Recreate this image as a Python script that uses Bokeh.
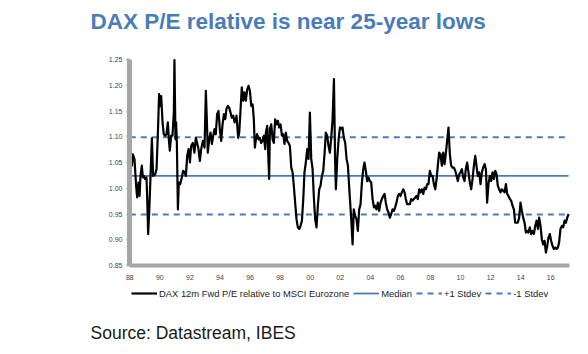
from bokeh.plotting import figure
from bokeh.models import Legend, LegendItem, FixedTicker, Range1d, Label, LinearAxis
from bokeh.embed import file_html
from bokeh.resources import INLINE

# ---------------- data ----------------
years = [
    1988.00, 1988.09, 1988.14, 1988.20, 1988.31, 1988.42, 1988.49, 1988.58, 1988.65, 1988.71,
    1988.80, 1988.87, 1988.93, 1989.02, 1989.11, 1989.16, 1989.22, 1989.29, 1989.38, 1989.47,
    1989.55, 1989.69, 1989.78, 1989.87, 1989.95, 1990.02, 1990.09, 1990.18, 1990.26, 1990.35,
    1990.44, 1990.53, 1990.60, 1990.66, 1990.75, 1990.84, 1990.93, 1990.97, 1991.04, 1991.08,
    1991.13, 1991.20, 1991.26, 1991.35, 1991.46, 1991.55, 1991.64, 1991.73, 1991.82, 1991.91,
    1992.00, 1992.08, 1992.19, 1992.30, 1992.39, 1992.48, 1992.57, 1992.66, 1992.75, 1992.86,
    1992.97, 1993.06, 1993.13, 1993.19, 1993.28, 1993.37, 1993.46, 1993.55, 1993.64, 1993.72,
    1993.81, 1993.90, 1993.99, 1994.08, 1994.17, 1994.26, 1994.35, 1994.43, 1994.52, 1994.61,
    1994.70, 1994.79, 1994.88, 1994.97, 1995.06, 1995.10, 1995.21, 1995.28, 1995.37, 1995.45,
    1995.54, 1995.63, 1995.72, 1995.81, 1995.90, 1995.99, 1996.08, 1996.17, 1996.25, 1996.32,
    1996.39, 1996.47, 1996.56, 1996.65, 1996.74, 1996.83, 1996.92, 1997.01, 1997.05, 1997.14,
    1997.23, 1997.27, 1997.32, 1997.41, 1997.50, 1997.58, 1997.67, 1997.76, 1997.85, 1997.94,
    1998.03, 1998.12, 1998.20, 1998.29, 1998.38, 1998.47, 1998.56, 1998.65, 1998.74, 1998.83,
    1998.91, 1999.00, 1999.09, 1999.18, 1999.27, 1999.36, 1999.45, 1999.54, 1999.62, 1999.71,
    1999.80, 1999.89, 1999.98, 2000.07, 2000.16, 2000.25, 2000.33, 2000.42, 2000.51, 2000.60,
    2000.69, 2000.78, 2000.87, 2000.96, 2001.04, 2001.13, 2001.22, 2001.31, 2001.40, 2001.49,
    2001.58, 2001.66, 2001.71, 2001.80, 2001.89, 2001.98, 2002.06, 2002.15, 2002.24, 2002.33,
    2002.42, 2002.51, 2002.62, 2002.73, 2002.82, 2002.90, 2002.99, 2003.08, 2003.17, 2003.26,
    2003.35, 2003.44, 2003.53, 2003.61, 2003.70, 2003.79, 2003.88, 2003.97, 2004.06, 2004.15,
    2004.24, 2004.32, 2004.41, 2004.50, 2004.59, 2004.68, 2004.77, 2004.86, 2004.95, 2005.03,
    2005.12, 2005.21, 2005.30, 2005.39, 2005.48, 2005.57, 2005.65, 2005.74, 2005.83, 2005.92,
    2006.01, 2006.10, 2006.19, 2006.28, 2006.36, 2006.45, 2006.54, 2006.63, 2006.72, 2006.81,
    2006.90, 2006.99, 2007.07, 2007.16, 2007.25, 2007.34, 2007.43, 2007.52, 2007.61, 2007.70,
    2007.78, 2007.87, 2007.96, 2008.05, 2008.14, 2008.23, 2008.32, 2008.41, 2008.49, 2008.58,
    2008.67, 2008.76, 2008.85, 2008.94, 2009.03, 2009.11, 2009.20, 2009.29, 2009.38, 2009.47,
    2009.56, 2009.65, 2009.74, 2009.82, 2009.91, 2010.00, 2010.09, 2010.18, 2010.27, 2010.35,
    2010.44, 2010.53, 2010.62, 2010.71, 2010.80, 2010.89, 2010.98, 2011.06, 2011.15, 2011.24,
    2011.33, 2011.42, 2011.51, 2011.60, 2011.69, 2011.77, 2011.86, 2011.95, 2012.04, 2012.13,
    2012.22, 2012.31, 2012.40, 2012.48, 2012.57, 2012.66, 2012.75, 2012.84, 2012.93, 2013.02,
    2013.10, 2013.19, 2013.28, 2013.37, 2013.46, 2013.55, 2013.64, 2013.73, 2013.81, 2013.90,
    2013.99, 2014.08, 2014.17, 2014.26, 2014.35, 2014.44, 2014.52, 2014.61, 2014.70, 2014.79,
    2014.88, 2014.97, 2015.06, 2015.15, 2015.23, 2015.32, 2015.41, 2015.50, 2015.59, 2015.68,
    2015.77, 2015.85, 2015.94, 2016.03, 2016.12, 2016.21, 2016.30, 2016.39, 2016.48, 2016.56,
    2016.65, 2016.74, 2016.83, 2016.92, 2017.01, 2017.10, 2017.19,
]

pe_relative = [
    1.098, 1.063, 1.044, 1.066, 1.057, 1.005, 0.982, 1.011, 0.985, 1.024,
    1.044, 1.021, 1.024, 1.018, 1.021, 0.979, 0.911, 0.953, 1.024, 1.097,
    1.024, 1.027, 1.037, 1.108, 1.183, 1.160, 1.179, 1.128, 1.105, 1.102,
    1.105, 1.128, 1.095, 1.073, 1.102, 1.102, 1.147, 1.249, 1.095, 1.128,
    1.089, 0.959, 1.011, 1.008, 1.021, 1.034, 1.031, 1.024, 1.063, 1.076,
    1.050, 1.082, 1.088, 1.069, 1.098, 1.088, 1.076, 1.053, 1.076, 1.092,
    1.079, 1.189, 1.128, 1.069, 1.095, 1.108, 1.086, 1.102, 1.115, 1.105,
    1.144, 1.150, 1.115, 1.092, 1.124, 1.144, 1.134, 1.154, 1.160, 1.157,
    1.147, 1.137, 1.141, 1.128, 1.134, 1.141, 1.098, 1.108, 1.154, 1.196,
    1.170, 1.186, 1.170, 1.192, 1.199, 1.189, 1.160, 1.163, 1.134, 1.079,
    1.095, 1.105, 1.095, 1.098, 1.088, 1.092, 1.102, 1.076, 1.108, 1.121,
    1.050, 1.018, 1.115, 1.124, 1.095, 1.088, 1.134, 1.124, 1.131, 1.118,
    1.124, 1.102, 1.105, 1.086, 1.108, 1.092, 1.088, 1.082, 1.040, 1.031,
    1.005, 0.972, 0.940, 0.924, 0.921, 0.927, 0.937, 0.979, 1.031, 1.050,
    1.076, 1.057, 1.147, 1.057, 1.037, 0.979, 0.940, 0.924, 0.966, 0.998,
    1.005, 1.024, 1.034, 1.069, 1.108, 1.102, 1.082, 1.069, 1.098, 1.134,
    1.212, 1.050, 0.998, 1.057, 1.095, 1.118, 1.115, 1.118, 1.098, 1.088,
    1.057, 1.044, 0.990, 0.940, 0.891, 0.959, 0.946, 0.940, 0.917, 0.959,
    0.969, 1.011, 1.037, 1.050, 1.034, 1.014, 1.021, 1.014, 1.011, 0.979,
    0.963, 0.966, 0.959, 0.972, 0.956, 0.972, 0.979, 0.985, 0.989, 0.972,
    0.959, 0.953, 0.943, 0.950, 0.959, 0.956, 0.963, 0.972, 0.985, 0.989,
    0.985, 0.992, 0.998, 0.992, 0.979, 0.969, 0.969, 0.969, 0.979, 0.976,
    0.979, 0.982, 0.985, 0.979, 0.998, 0.992, 0.998, 0.989, 1.001, 0.998,
    1.008, 1.008, 1.034, 1.024, 1.024, 1.008, 0.998, 1.018, 1.044, 1.069,
    1.066, 1.044, 1.069, 1.047, 1.069, 1.092, 1.118, 1.066, 1.044, 1.040,
    1.040, 1.034, 1.024, 1.014, 1.027, 1.031, 1.037, 1.021, 1.014, 1.037,
    1.050, 1.031, 1.011, 0.998, 1.018, 1.044, 1.063, 1.044, 1.024, 1.031,
    1.008, 1.031, 1.040, 1.047, 1.037, 0.972, 1.008, 1.024, 1.014, 1.031,
    1.018, 1.034, 1.027, 1.005, 0.998, 0.992, 0.998, 0.995, 0.992, 1.008,
    0.989, 0.985, 0.979, 0.976, 0.966, 0.959, 0.933, 0.933, 0.933, 0.943,
    0.972, 0.956, 0.943, 0.933, 0.914, 0.917, 0.914, 0.924, 0.911, 0.917,
    0.911, 0.927, 0.937, 0.921, 0.943, 0.927, 0.901, 0.891, 0.898, 0.875,
    0.888, 0.904, 0.911, 0.898, 0.888, 0.882, 0.885, 0.882, 0.885, 0.895,
    0.921, 0.927, 0.924, 0.937, 0.933, 0.943, 0.950,
]

median_value = 1.024
plus_1_stdev = 1.099
minus_1_stdev = 0.949

x_ticks = [1988, 1990, 1992, 1994, 1996, 1998, 2000, 2002, 2004, 2006, 2008, 2010, 2012, 2014, 2016]
x_tick_labels = ["88", "90", "92", "94", "96", "98", "00", "02", "04", "06", "08", "10", "12", "14", "16"]
y_ticks = [0.85, 0.90, 0.95, 1.00, 1.05, 1.10, 1.15, 1.20, 1.25]

series_labels = ["DAX 12m Fwd P/E relative to MSCI Eurozone", "Median", "+1 Stdev", "-1 Stdev"]
title_text = "DAX P/E relative is near 25-year lows"
source_text = "Source: Datastream, IBES"

# ---------------- layout / styles ----------------
X_START, X_END = 1987.98, 2017.25      # extent of the plotted axes
Y_START, Y_END = y_ticks[0], y_ticks[-1]
PX_PER_YEAR = 15.033
PX_PER_UNIT = 515.0
LEFT_PAD, RIGHT_PAD, TOP_PAD, BOTTOM_PAD = 129, 19, 59, 89   # pixels around the axes box

BLUE = "#4a7db8"
AXIS_GREY = "#a6a6a6"
FONT = "Liberation Sans"
STDEV_DASH = "6 5"

p = figure(width=588, height=354, output_backend="svg", toolbar_location=None,
           x_range=Range1d(X_START - LEFT_PAD / PX_PER_YEAR, X_END + RIGHT_PAD / PX_PER_YEAR),
           y_range=Range1d(Y_START - BOTTOM_PAD / PX_PER_UNIT, Y_END + TOP_PAD / PX_PER_UNIT),
           x_axis_type=None, y_axis_type=None, min_border=0)
p.background_fill_color = "white"
p.border_fill_color = "white"
p.outline_line_color = None

x_span = [years[0], years[-1]]
r_med = p.line(x_span, [median_value, median_value], line_color=BLUE, line_width=1.8)
r_p1 = p.line(x_span, [plus_1_stdev, plus_1_stdev], line_color=BLUE, line_width=1.8, line_dash=STDEV_DASH)
r_m1 = p.line(x_span, [minus_1_stdev, minus_1_stdev], line_color=BLUE, line_width=1.8, line_dash=STDEV_DASH)
r_pe = p.line(years, pe_relative, line_color="black", line_width=2.2, line_join="round")

# axes, pinned to the edges of the data box
xaxis = LinearAxis(fixed_location=Y_START, bounds=(X_START, X_END),
                   ticker=FixedTicker(ticks=x_ticks),
                   major_label_overrides={t: l for t, l in zip(x_ticks, x_tick_labels)},
                   axis_line_color=AXIS_GREY, axis_line_width=4,
                   major_tick_line_color=None, minor_tick_line_color=None,
                   major_label_text_font=FONT, major_label_text_font_size="7px",
                   major_label_text_color="#444444", major_label_standoff=3)
p.add_layout(xaxis, "below")

yaxis = LinearAxis(fixed_location=X_START, bounds=(Y_START, Y_END),
                   ticker=FixedTicker(ticks=y_ticks),
                   major_label_overrides={t: f"{t:.2f}" for t in y_ticks},
                   axis_line_color=AXIS_GREY, axis_line_width=5,
                   major_tick_line_color=AXIS_GREY, major_tick_line_width=2,
                   major_tick_out=3, major_tick_in=0, minor_tick_line_color=None,
                   major_label_text_font=FONT, major_label_text_font_size="7px",
                   major_label_text_color="#444444", major_label_standoff=4)
p.add_layout(yaxis, "left")

# legend
legend = Legend(items=[
    LegendItem(label=series_labels[0], renderers=[r_pe]),
    LegendItem(label=series_labels[1], renderers=[r_med]),
    LegendItem(label=series_labels[2], renderers=[r_p1]),
    LegendItem(label=series_labels[3], renderers=[r_m1]),
], orientation="horizontal", location=(131, 55), glyph_width=26, glyph_height=12,
    label_standoff=2, spacing=4, padding=0, margin=0, border_line_color=None,
    background_fill_alpha=0, label_text_font=FONT, label_text_font_size="9.4px",
    label_text_color="#222222", label_height=12)
p.add_layout(legend)

# title and source
text_x = X_START - (LEFT_PAD - 90) / PX_PER_YEAR
p.add_layout(Label(x=text_x, y=Y_END + (TOP_PAD - 21) / PX_PER_UNIT, text=title_text,
                   text_font=FONT, text_font_size="22.5px", text_font_style="bold",
                   text_color=BLUE, text_baseline="alphabetic"))
p.add_layout(Label(x=text_x, y=Y_START - (332 - 265) / PX_PER_UNIT, text=source_text,
                   text_font=FONT, text_font_size="17.5px", text_color="#1a1a1a",
                   text_baseline="alphabetic"))

open("out.html", "w").write(file_html(p, INLINE))
